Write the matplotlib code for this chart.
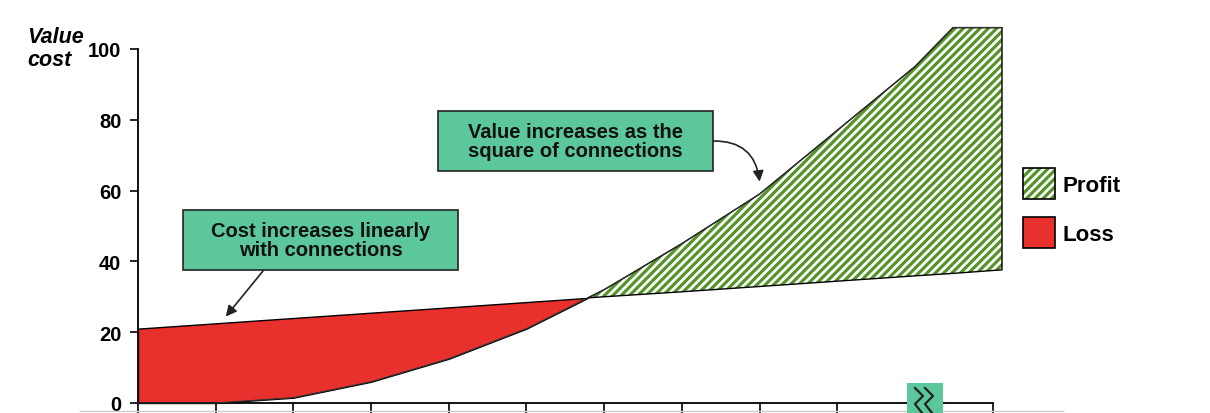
import matplotlib
matplotlib.use("Agg")
import matplotlib.pyplot as plt
import numpy as np
from matplotlib.patches import Rectangle, Patch
from matplotlib.legend_handler import HandlerBase
from matplotlib.lines import Line2D

plt.rcParams['font.family'] = ['Liberation Sans', 'DejaVu Sans']
plt.rcParams['hatch.linewidth'] = 2.3

# ---- data ----
connections = [0, 1, 2, 3, 4, 5, 6, 7, 8, 9, 10, 10.49, 11.12]
value = [0, 0, 1.5, 6, 12.5, 21, 32, 45, 59, 77, 95, 106, 106]
cost = [21, 22.5, 24, 25.5, 27, 28.5, 30, 31.4, 32.9, 34.4, 35.9, 36.6, 37.6]
x_ticks = list(range(0, 12))
y_ticks = [0, 20, 40, 60, 80, 100]
legend_labels = ["Profit", "Loss"]
note_cost = "Cost increases linearly\nwith connections"
note_value = "Value increases as the\nsquare of connections"
y_label = "Value\ncost"

RED = "#E8302D"
GREEN = "#55942A"
MINT = "#5BC79A"

W, H = 1210, 414
fig = plt.figure(figsize=(W / 100, H / 100), dpi=100)

# axes placement in pixels
x0_px, x1_px = 138, 1002
y0_px, ytop_px = 404, 28.6
ax = fig.add_axes([x0_px / W, (H - y0_px) / H, (x1_px - x0_px) / W, (y0_px - ytop_px) / H])
ax.set_xlim(0, connections[-1])
ax.set_ylim(0, 106)
ax.patch.set_alpha(0)

x = np.array(connections)
v = np.array(value)
c = np.array(cost)

# loss region
ax.fill_between(x, v, c, where=v <= c, interpolate=True, facecolor=RED,
                edgecolor='black', linewidth=1.0, clip_on=False, zorder=2)
# profit region (green hatch) + black outline
ax.fill_between(x, c, v, where=v >= c, interpolate=True, facecolor='white',
                edgecolor=GREEN, hatch='////', linewidth=0, clip_on=False, zorder=2)
ax.fill_between(x, c, v, where=v >= c, interpolate=True, facecolor='none',
                edgecolor='black', linewidth=1.0, clip_on=False, zorder=3)
ax.plot(x, v, color='#333333', lw=0.8, clip_on=False, zorder=3)

# spines / ticks
for s in ['top', 'right']:
    ax.spines[s].set_visible(False)
ax.spines['left'].set_bounds(0, 100)
ax.spines['bottom'].set_bounds(0, 11)
ax.spines['left'].set_linewidth(1.3)
ax.spines['bottom'].set_linewidth(1.3)
ax.set_xticks(x_ticks)
ax.set_xticklabels([])
ax.set_yticks(y_ticks)
ax.set_yticklabels([str(t) for t in y_ticks], fontsize=14.5, fontweight='bold')
ax.tick_params(axis='y', length=6, width=1.2, pad=6)
ax.tick_params(axis='x', length=7, width=1.2)

# y label
fig.text(27 / W, 1 - 27 / H, y_label, fontsize=15.5, fontweight='bold', style='italic',
         ha='left', va='top', linespacing=1.1)

# annotation boxes
def note(text, box_px, target, start_px, rad):
    bx0, by0, bx1, by1 = box_px
    fig.patches.append(Rectangle((bx0 / W, 1 - by1 / H), (bx1 - bx0) / W, (by1 - by0) / H,
                                 transform=fig.transFigure, facecolor=MINT,
                                 edgecolor='#222222', linewidth=1.2, zorder=5))
    fig.text((bx0 + bx1) / 2 / W, 1 - (by0 + by1) / 2 / H, text, fontsize=14.5,
             fontweight='bold', ha='center', va='center', linespacing=1.0,
             color='#111111', zorder=6)
    ax.annotate('', xy=target, xycoords='data',
                xytext=(start_px[0] / W, 1 - start_px[1] / H), textcoords='figure fraction',
                arrowprops=dict(arrowstyle='-|>', color='#222222', lw=1.2,
                                mutation_scale=16, shrinkA=0, shrinkB=0,
                                connectionstyle=f'arc3,rad={rad}'),
                annotation_clip=False, zorder=6)

note(note_cost, (183, 211, 458, 271), (1.13, 24.4), (263, 272), 0)
note(note_value, (438, 112, 713, 172), (8.0, 62.5), (713, 142), -0.45)

# axis break marker
bx_c = 925
fig.patches.append(Rectangle(((bx_c - 18) / W, 0), 36 / W, 30 / H, transform=fig.transFigure,
                             facecolor=MINT, edgecolor='none', zorder=7))
for off in (-5, 5):
    xs = np.array([-5, 3, -5, 2]) + bx_c + off
    ys = np.array([389, 397, 405, 414])
    fig.lines.append(Line2D(xs / W, 1 - ys / H, transform=fig.transFigure,
                            color='#222222', lw=1.6, zorder=8))

# faint bottom line
fig.lines.append(Line2D([80 / W, 1063 / W], [1 - 412 / H] * 2, transform=fig.transFigure,
                        color='#cccccc', lw=1, zorder=1))

# legend
class HatchHandler(HandlerBase):
    def create_artists(self, legend, orig, xd, yd, width, height, fontsize, trans):
        r1 = Rectangle((-xd, -yd), width, height, facecolor='white', edgecolor=GREEN,
                       hatch='////', linewidth=0, transform=trans)
        r2 = Rectangle((-xd, -yd), width, height, facecolor='none', edgecolor='black',
                       linewidth=1.2, transform=trans)
        return [r1, r2]

h_profit = Patch(facecolor='white', edgecolor=GREEN, hatch='////')
h_loss = Patch(facecolor=RED, edgecolor='black', linewidth=1.2)
leg = fig.legend([h_profit, h_loss], legend_labels, loc='upper left',
                 bbox_to_anchor=(1023 / W, 1 - 169 / H), frameon=False,
                 prop={'size': 16, 'weight': 'bold'}, handlelength=1.44,
                 handleheight=1.77, handletextpad=0.36, labelspacing=0.83,
                 borderpad=0, borderaxespad=0,
                 handler_map={h_profit: HatchHandler()})

fig.savefig("out.png", dpi=100)
